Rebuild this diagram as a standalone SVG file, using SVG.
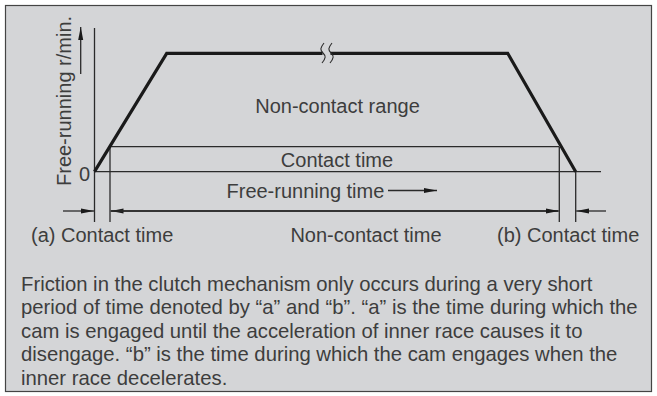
<svg xmlns="http://www.w3.org/2000/svg" width="657" height="396" viewBox="0 0 657 396">
<style>
.t{font-family:"Liberation Sans",Arial,sans-serif;font-size:20px;fill:#3d3d3d}
.p{font-family:"Liberation Sans",Arial,sans-serif;font-size:20.3px;fill:#3d3d3d}
.thin{stroke:#2a2a2a;stroke-width:1.3;fill:none}
.thick{stroke:#1a1a1a;stroke-width:3.2;fill:none;stroke-linejoin:miter}
</style>
<defs>
<marker id="ah" markerWidth="13" markerHeight="6" refX="13" refY="3" orient="auto" markerUnits="userSpaceOnUse">
<path d="M0,0.5 L13,3 L0,5.5 Z" fill="#1a1a1a"/>
</marker>
</defs>
<rect x="5.5" y="5.5" width="646" height="386" fill="#d4d5d7" stroke="#444" stroke-width="1.2"/>
<g id="axes">
<line class="thin" x1="94.5" y1="28" x2="94.5" y2="222"/>
<line class="thin" x1="94.5" y1="171.7" x2="601" y2="171.7"/>
<line class="thin" x1="110" y1="146.7" x2="559" y2="146.7"/>
<line class="thin" x1="110" y1="146.7" x2="110" y2="222"/>
<line class="thin" x1="559.3" y1="146.7" x2="559.3" y2="222"/>
<line class="thin" x1="575.7" y1="171.7" x2="575.7" y2="222"/>
<text class="t" x="90" y="181" text-anchor="end">0</text>
<text class="t" transform="translate(71,186) rotate(-90)">Free-running r/min.</text>
<line class="thin" x1="80.7" y1="74" x2="80.7" y2="27" marker-end="url(#ah)"/>
</g>
<g id="curve">
<polyline class="thick" points="94.5,171.7 166.7,53.3 507.7,53.3 575.7,171.7"/>
<rect x="322.5" y="48" width="8" height="11" fill="#d4d5d7"/>
<path d="M324,43 C320,48 320,50 323,53 C326,56 326,58 322,63 M332,43 C328,48 328,50 331,53 C334,56 334,58 330,63" stroke="#2a2a2a" stroke-width="1.1" fill="none"/>
</g>
<g id="labels">
<text class="t" x="337.5" y="113" text-anchor="middle">Non-contact range</text>
<text class="t" x="337" y="166.5" text-anchor="middle">Contact time</text>
<text class="t" x="226.5" y="197.5">Free-running time</text>
<line class="thin" x1="388" y1="190.5" x2="437" y2="190.5" marker-end="url(#ah)"/>
<text class="t" x="31" y="242">(a) Contact time</text>
<text class="t" x="366" y="242" text-anchor="middle">Non-contact time</text>
<text class="t" x="497" y="242">(b) Contact time</text>
</g>
<g id="connectors">
<line class="thin" x1="63" y1="211" x2="94" y2="211" marker-end="url(#ah)"/>
<line class="thin" x1="558" y1="211" x2="110.5" y2="211" marker-end="url(#ah)"/>
<line class="thin" x1="111" y1="211" x2="558.8" y2="211" marker-end="url(#ah)"/>
<line class="thin" x1="606" y1="211" x2="576.2" y2="211" marker-end="url(#ah)"/>
</g>
<g id="caption">
<text class="p" x="21" y="290.7">Friction in the clutch mechanism only occurs during a very short</text>
<text class="p" x="21" y="314.2">period of time denoted by “a” and “b”. “a” is the time during which the</text>
<text class="p" x="21" y="337.7">cam is engaged until the acceleration of inner race causes it to</text>
<text class="p" x="21" y="361.2">disengage. “b” is the time during which the cam engages when the</text>
<text class="p" x="21" y="384.7">inner race decelerates.</text>
</g>
</svg>
